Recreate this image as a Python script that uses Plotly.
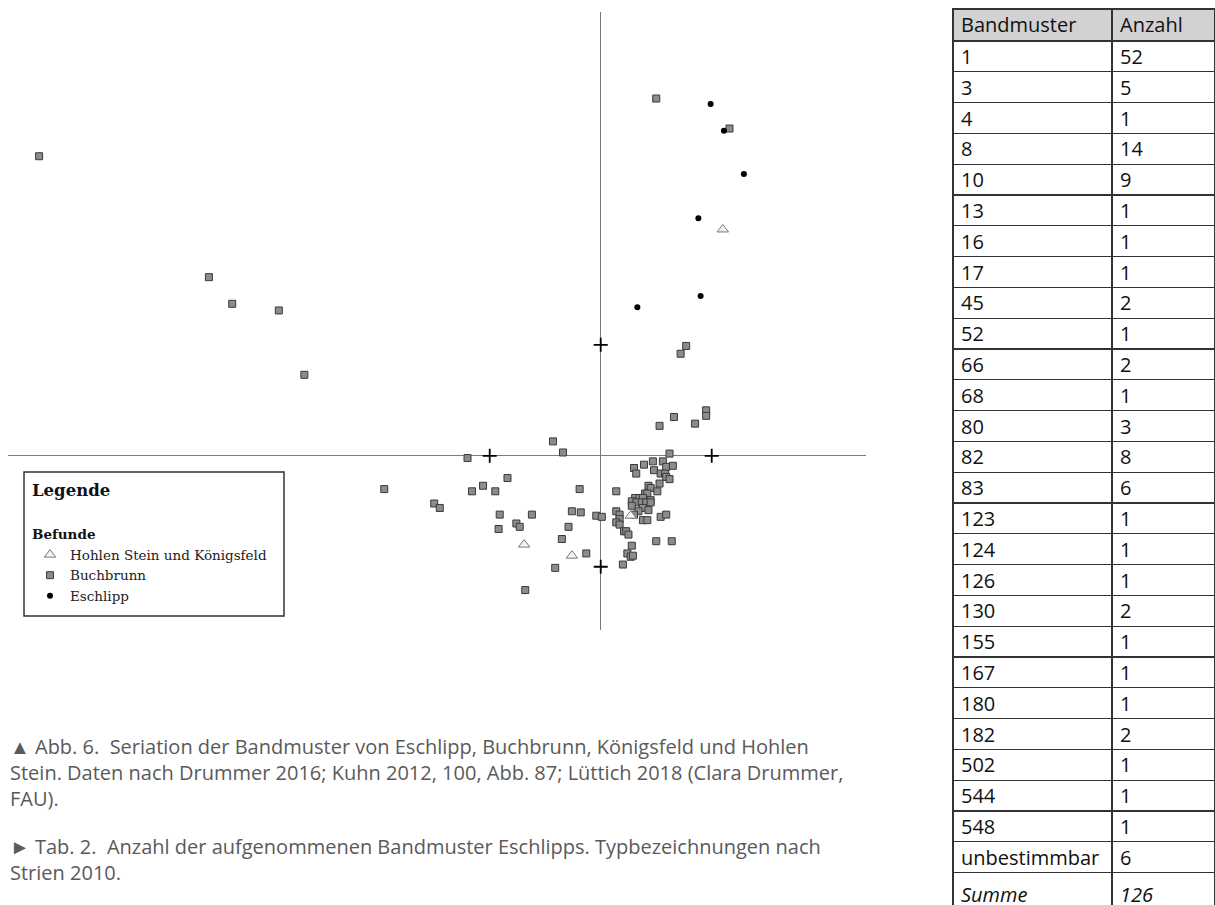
import plotly.graph_objects as go

# ---------------- data (correspondence-analysis coordinates) ----------------
esch_x = [0.99, 1.11, 1.29, 0.88, 0.90, 0.33]
esch_y = [3.17, 2.93, 2.54, 2.14, 1.44, 1.34]

hohl_x = [1.10, -0.69, -0.26, 0.27]
hohl_y = [2.04, -0.80, -0.90, -0.54]

buch_x = [-5.06, -3.53, -3.32, -2.90, -2.67, 0.50, 1.16, 0.77, 0.72, 0.95, 0.95, 0.66, 0.53, 0.85, 0.62,
          -1.95, -1.20, -1.50, -1.45, -1.16, -1.06, -0.95, -0.84, -0.91, -0.92, -0.76, -0.73,
          -0.43, -0.34, -0.19, -0.62, -0.26, -0.18, -0.04, -0.29, -0.35, -0.13, -0.41, -0.68,
          0.30, 0.39, 0.47, 0.56, 0.59, 0.65, 0.32, 0.48, 0.54, 0.58, 0.59, 0.62, 0.43, 0.45, 0.53, 0.51,
          0.14, 0.31, 0.35, 0.40, 0.42, 0.38, 0.45, 0.28, 0.32, 0.37, 0.41, 0.45, 0.28, 0.38, 0.43, 0.34,
          0.30, 0.01, 0.14, 0.17, 0.17, 0.38, 0.42, 0.54, 0.59, 0.14, 0.17, 0.21, 0.23, 0.25, 0.28,
          0.50, 0.64, 0.24, 0.27, 0.29, 0.20]
buch_y = [2.70, 1.61, 1.37, 1.31, 0.73, 3.22, 2.95, 0.99, 0.92, 0.41, 0.36, 0.35, 0.27, 0.29, 0.02,
          -0.30, -0.02, -0.43, -0.47, -0.32, -0.27, -0.32, -0.20, -0.53, -0.66, -0.61, -0.64,
          0.13, 0.03, -0.30, -0.53, -0.50, -0.51, -0.54, -0.64, -0.75, -0.88, -1.01, -1.21,
          -0.11, -0.08, -0.05, -0.05, -0.10, -0.09, -0.16, -0.13, -0.16, -0.16, -0.19, -0.21, -0.27, -0.29, -0.25, -0.32,
          -0.32, -0.38, -0.38, -0.34, -0.34, -0.38, -0.40, -0.41, -0.42, -0.42, -0.42, -0.42, -0.45, -0.47, -0.49, -0.50,
          -0.53, -0.55, -0.50, -0.53, -0.57, -0.58, -0.58, -0.55, -0.53, -0.60, -0.62, -0.68, -0.68, -0.71, -0.81,
          -0.77, -0.77, -0.88, -0.91, -0.90, -0.98]

tick_x = [-1, 1, 0, 0]
tick_y = [0, 0, 1, -1]

legend_names = ["Hohlen Stein und Königsfeld", "Buchbrunn", "Eschlipp"]

table_muster = ["1", "3", "4", "8", "10", "13", "16", "17", "45", "52", "66", "68", "80", "82", "83",
                "123", "124", "126", "130", "155", "167", "180", "182", "502", "544", "548", "unbestimmbar"]
table_anzahl = [52, 5, 1, 14, 9, 1, 1, 1, 2, 1, 2, 1, 3, 8, 6, 1, 1, 1, 2, 1, 1, 1, 2, 1, 1, 1, 6]
table_header = ["Bandmuster", "Anzahl"]
sum_label = "Summe"

caption_paragraphs = [
    ["▲ Abb. 6.  Seriation der Bandmuster von Eschlipp, Buchbrunn, Königsfeld und Hohlen",
     "Stein. Daten nach Drummer 2016; Kuhn 2012, 100, Abb. 87; Lüttich 2018 (Clara Drummer,",
     "FAU)."],
    ["► Tab. 2.  Anzahl der aufgenommenen Bandmuster Eschlipps. Typbezeichnungen nach",
     "Strien 2010."],
]

# ---------------- figure ----------------
W, H = 1215, 905
fig = go.Figure()

fig.add_trace(go.Scatter(
    x=buch_x, y=buch_y, mode="markers", name=legend_names[1], legendrank=2,
    marker=dict(symbol="square", size=7, color="#8c8c8c", line=dict(color="#3a3a3a", width=1)),
))
fig.add_trace(go.Scatter(
    x=hohl_x, y=hohl_y, mode="markers", name=legend_names[0], legendrank=1,
    marker=dict(symbol="triangle-up", size=10, color="#f2f2f2", line=dict(color="#7a7a7a", width=1)),
))
fig.add_trace(go.Scatter(
    x=esch_x, y=esch_y, mode="markers", name=legend_names[2], legendrank=3,
    marker=dict(symbol="circle", size=6, color="#000000", line=dict(width=0)),
))
fig.add_trace(go.Scatter(
    x=tick_x, y=tick_y, mode="markers", showlegend=False, hoverinfo="skip",
    marker=dict(symbol="cross-thin", size=10, line=dict(color="#000000", width=1.8)),
))

# table
sum_total = sum(table_anzahl)
col1 = table_muster + [f"<i>{sum_label}</i>"]
col2 = [str(v) for v in table_anzahl] + [f"<i>{sum_total}</i>"]
fig.add_trace(go.Table(
    domain=dict(x=[953 / W, 1.0], y=[0.0, 1 - 9 / H]),
    columnwidth=[159, 103],
    header=dict(values=table_header, fill_color="#d2d2d2", line=dict(color="#333333", width=1.3),
                align="left", height=32,
                font=dict(family="Open Sans", size=20, color="#111111")),
    cells=dict(values=[col1, col2], fill_color="#ffffff", line=dict(color="#333333", width=1.3),
               align="left", height=30.8,
               font=dict(family="Open Sans", size=20, color="#111111")),
))

x0, x1 = -5.34, 2.39
y0, y1 = -1.57, 4.0
fig.update_layout(
    width=W, height=H,
    margin=dict(l=0, r=0, t=0, b=0),
    paper_bgcolor="white", plot_bgcolor="white",
    xaxis=dict(domain=[8 / W, 866 / W], range=[x0, x1], showgrid=False, showticklabels=False,
               ticks="", zeroline=True, zerolinecolor="#7a7a7a", zerolinewidth=1.2, showline=False),
    yaxis=dict(domain=[(H - 630) / H, (H - 12) / H], range=[y0, y1], showgrid=False, showticklabels=False,
               ticks="", zeroline=True, zerolinecolor="#7a7a7a", zerolinewidth=1.2, showline=False),
    showlegend=True,
    legend=dict(
        x=30 / W, y=1 - 475 / H, xanchor="left", yanchor="top",
        borderwidth=0, bgcolor="rgba(0,0,0,0)",
        font=dict(family="DejaVu Serif", size=13.5, color="#222222"),
        title=dict(text="<b>Legende</b><br><br><span style='font-size:13.5px'><b>Befunde</b></span>",
                   font=dict(family="DejaVu Serif", size=16.5, color="#111111"), side="top"),
        traceorder="normal", itemsizing="trace", tracegroupgap=0,
    ),
    shapes=[dict(type="rect", xref="paper", yref="paper",
                 x0=24 / W, x1=284 / W, y0=1 - 616 / H, y1=1 - 472 / H,
                 line=dict(color="#333333", width=1.5), fillcolor="white", layer="above")],
)

para_centers = [772, 859.5]
for lines, yc in zip(caption_paragraphs, para_centers):
    fig.add_annotation(
        x=8 / W, y=1 - yc / H, xref="paper", yref="paper", xanchor="left", yanchor="middle",
        text="<br>".join(lines), showarrow=False, align="left",
        font=dict(family="Open Sans", size=20, color="#5a5a5a"),
    )

fig.write_html("out.html")
